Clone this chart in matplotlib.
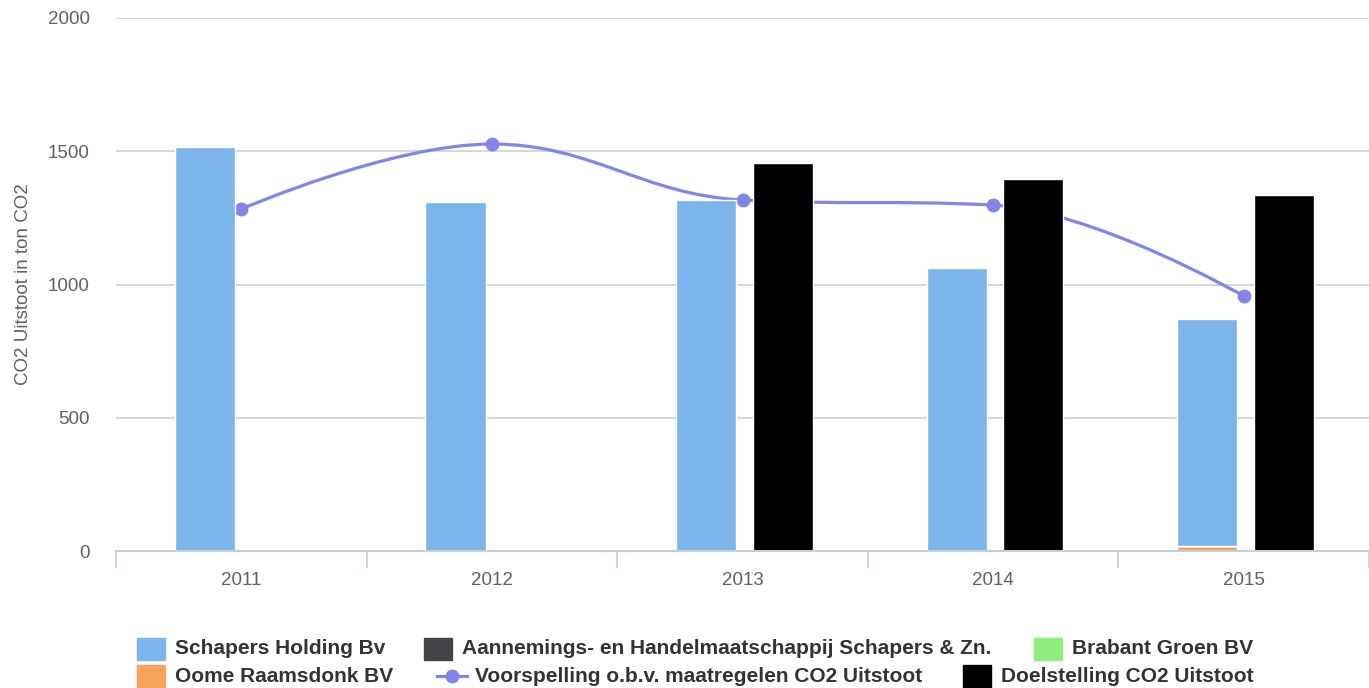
import numpy as np
import matplotlib.pyplot as plt
from matplotlib.path import Path
from matplotlib.patches import PathPatch, Rectangle
from matplotlib.lines import Line2D

plt.rcParams['font.family'] = ['Liberation Sans', 'DejaVu Sans']

jaren = ['2011', '2012', '2013', '2014', '2015']
schapers_holding = [1515, 1310, 1317, 1062, 853]
aannemings = [0, 0, 0, 0, 0]
brabant_groen = [0, 0, 0, 0, 0]
oome_raamsdonk = [0, 0, 0, 0, 17]
voorspelling = [1283, 1527, 1317, 1298, 957]
doelstelling = [np.nan, np.nan, 1456, 1396, 1336]

kleuren = {
    'Schapers Holding Bv': '#7cb5ec',
    'Aannemings- en Handelmaatschappij Schapers & Zn.': '#434348',
    'Brabant Groen BV': '#90ed7d',
    'Oome Raamsdonk BV': '#f7a35c',
}
lijnkleur = '#8085e9'


def spline_pad(xs, ys, smoothing=1.5):
    # zelfde soort spline als Highcharts
    n = len(xs)
    links = [None] * n
    rechts = [None] * n
    for i in range(1, n - 1):
        px, py = xs[i], ys[i]
        lx, ly = xs[i - 1], ys[i - 1]
        nx, ny = xs[i + 1], ys[i + 1]
        d = smoothing + 1
        lcx = (smoothing * px + lx) / d
        lcy = (smoothing * py + ly) / d
        rcx = (smoothing * px + nx) / d
        rcy = (smoothing * py + ny) / d
        corr = ((rcy - lcy) * (rcx - px)) / (rcx - lcx) + py - rcy
        lcy += corr
        rcy += corr
        if lcy > ly and lcy > py:
            lcy = max(ly, py); rcy = 2 * py - lcy
        elif lcy < ly and lcy < py:
            lcy = min(ly, py); rcy = 2 * py - lcy
        if rcy > ny and rcy > py:
            rcy = max(ny, py); lcy = 2 * py - rcy
        elif rcy < ny and rcy < py:
            rcy = min(ny, py); lcy = 2 * py - rcy
        links[i] = (lcx, lcy)
        rechts[i] = (rcx, rcy)
    verts = [(xs[0], ys[0])]
    codes = [Path.MOVETO]
    for i in range(1, n):
        c1 = rechts[i - 1] or (xs[i - 1], ys[i - 1])
        c2 = links[i] or (xs[i], ys[i])
        verts += [c1, c2, (xs[i], ys[i])]
        codes += [Path.CURVE4] * 3
    return Path(verts, codes)


W, H = 1369, 688
fig = plt.figure(figsize=(W / 100, H / 100), dpi=100)
ax = fig.add_axes([116 / W, 1 - 551 / H, 1 - 116 / W, (551 - 18) / H])

x = np.arange(len(jaren))
breedte = 0.24

# stapel: oranje onderaan, dan groen, donker, blauw
onder = np.zeros(len(jaren))
for naam, waarden in [('Oome Raamsdonk BV', oome_raamsdonk),
                      ('Brabant Groen BV', brabant_groen),
                      ('Aannemings- en Handelmaatschappij Schapers & Zn.', aannemings),
                      ('Schapers Holding Bv', schapers_holding)]:
    w = np.array(waarden, dtype=float)
    ax.bar(x - 0.145, w, breedte, bottom=onder, color=kleuren[naam],
           edgecolor='white', linewidth=1, zorder=3)
    onder += w

ax.bar(x + 0.16, doelstelling, breedte, color='black',
       edgecolor='white', linewidth=1, zorder=3)

pad = spline_pad(list(x.astype(float)), voorspelling)
ax.add_patch(PathPatch(pad, facecolor='none', edgecolor=lijnkleur, lw=2.3, zorder=2))
ax.plot(x, voorspelling, 'o', color=lijnkleur, ms=9, zorder=2.5)

ax.set_xlim(-0.5, len(jaren) - 0.5)
ax.set_ylim(0, 2000)
ax.set_yticks([0, 500, 1000, 1500, 2000])
ax.set_xticks(x)
ax.set_xticklabels(jaren)
ax.set_xticks(np.arange(-0.5, len(jaren)), minor=True)
ax.tick_params(axis='x', which='major', length=0, pad=15, labelsize=13.5, labelcolor='#606060')
ax.tick_params(axis='x', which='minor', length=12, width=1.2, color='#c0d0e0', direction='out')
ax.tick_params(axis='y', length=0, pad=19, labelsize=13.5, labelcolor='#606060')
ax.grid(axis='y', color='#cccccc', lw=1.1, zorder=0)
for s in ['top', 'right', 'left']:
    ax.spines[s].set_visible(False)
ax.spines['bottom'].set_color('#c0d0e0')
ax.spines['bottom'].set_linewidth(1.5)
ax.spines['bottom'].set_zorder(4)
ax.set_axisbelow(True)
ax.set_ylabel('CO2 Uitstoot in ton CO2', fontsize=13.5, color='#606060')
ax.yaxis.set_label_coords(-0.067, 0.5)

# legenda
legenda = [
    (137, 649, 'rect', kleuren['Schapers Holding Bv'], 'Schapers Holding Bv'),
    (424, 649, 'rect', kleuren['Aannemings- en Handelmaatschappij Schapers & Zn.'],
     'Aannemings- en Handelmaatschappij Schapers & Zn.'),
    (1034, 649, 'rect', kleuren['Brabant Groen BV'], 'Brabant Groen BV'),
    (137, 676, 'rect', kleuren['Oome Raamsdonk BV'], 'Oome Raamsdonk BV'),
    (437, 676, 'line', lijnkleur, 'Voorspelling o.b.v. maatregelen CO2 Uitstoot'),
    (963, 676, 'rect', 'black', 'Doelstelling CO2 Uitstoot'),
]
for lx, ly, soort, kleur, tekst in legenda:
    if soort == 'rect':
        fig.add_artist(Rectangle((lx / W, 1 - (ly + 11) / H), 28 / W, 22 / H,
                                 transform=fig.transFigure, color=kleur))
    else:
        fig.add_artist(Line2D([lx / W, (lx + 30) / W], [1 - ly / H] * 2,
                              transform=fig.transFigure, color=kleur, lw=2.3))
        fig.add_artist(Line2D([(lx + 15) / W], [1 - ly / H], marker='o', ms=9,
                              transform=fig.transFigure, color=kleur))
    fig.text((lx + 38) / W, 1 - ly / H, tekst, fontsize=15, fontweight='bold',
             color='#333333', va='center', ha='left')

fig.savefig('out.png', dpi=100)
